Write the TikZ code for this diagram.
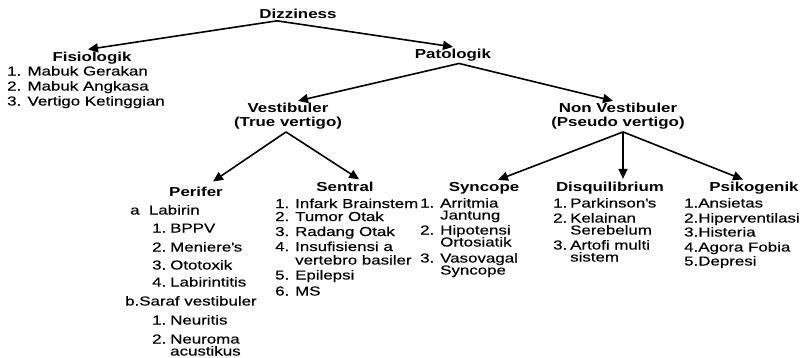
\documentclass[tikz,border=0pt]{standalone}
\usepackage{fontspec}
\setmainfont{Liberation Sans}[FakeStretch=1.3, UprightFeatures={FakeBold=0.4}]
\usetikzlibrary{arrows.meta}

\tikzset{
  title/.style={font=\bfseries, inner sep=2pt, align=center},
  item/.style={anchor=base west, inner sep=0pt},
  arr/.style={line width=1.6pt, -{Triangle[length=10pt,width=9pt]}},
}

\begin{document}
\fontsize{13}{14.5}\selectfont
\begin{tikzpicture}[x=1pt,y=-1pt]
\useasboundingbox (0,0) rectangle (806,357);

% judul tiap tingkat
\node[title, anchor=base] (diz) at (298,18.5) {Dizziness};
\node[title, anchor=base] (fis) at (92,61) {Fisiologik};
\node[title, anchor=base] (pat) at (453,58.5) {Patologik};
\node[title] (ves) at (288,116.4) {Vestibuler\\(True vertigo)};
\node[title] (nves) at (618,116.4) {Non Vestibuler\\(Pseudo vertigo)};
\node[title, anchor=base] (per) at (196,196.5) {Perifer};
\node[title, anchor=base] (sen) at (345,191.5) {Sentral};
\node[title, anchor=base] (syn) at (484,191.5) {Syncope};
\node[title, anchor=base] (dis) at (610,191.5) {Disquilibrium};
\node[title, anchor=base] (psi) at (754,191.5) {Psikogenik};

% panah antar tingkat
\draw[arr] ([xshift=-21pt]diz.south) -- ([xshift=-4pt]fis.north);
\draw[arr] ([xshift=-21pt]diz.south) -- (pat.north);
\draw[arr] ([xshift=6pt]pat.south) -- ([xshift=10pt]ves.north);
\draw[arr] ([xshift=6pt]pat.south) -- ([xshift=-5pt]nves.north);
\draw[arr, shorten >=6pt] ([xshift=-2pt]ves.south) -- ([xshift=12pt]per.north);
\draw[arr, shorten >=1pt] ([xshift=-2pt]ves.south) -- ([xshift=15pt]sen.north);
\draw[arr, shorten >=1pt] ([xshift=5pt]nves.south) -- ([xshift=13pt]syn.north);
\draw[arr, shorten >=1pt] ([xshift=5pt]nves.south) -- ([xshift=13pt]dis.north);
\draw[arr, shorten >=1pt] ([xshift=5pt]nves.south) -- ([xshift=-10pt]psi.north);

% isi daftar
\foreach \y/\t [count=\i] in {75.5/1. Mabuk Gerakan, 90.5/2. Mabuk Angkasa,
    105.5/3. Vertigo Ketinggian}
  \node[item] (fis-\i) at (7,\y) {\t};

\node[item] (per-a) at (130,214.5) {a\ \ Labirin};
\foreach \y/\n/\t [count=\i] in {232.5/1./BPPV, 251.5/2./Meniere\textquotesingle s,
    269.5/3./Ototoxik, 286.5/4./Labirintitis}
  \node[item] (lab-\i) at (152,\y) {\makebox[18pt][l]{\n}\t};
\node[item] (per-b) at (125,305.5) {b.Saraf vestibuler};
\foreach \y/\n/\t [count=\i] in {324.5/1./Neuritis, 343.5/2./Neuroma,
    355.5//acustikus}
  \node[item] (saf-\i) at (152,\y) {\makebox[18pt][l]{\n}\t};

\foreach \y/\n/\t [count=\i] in {208/1./Infark Brainstem, 221/2./Tumor Otak,
    236/3./Radang Otak, 251/4./Insufisiensi a, 264.5//vertebro basiler,
    279.5/5./Epilepsi, 295.5/6./MS}
  \node[item] (sen-\i) at (275,\y) {\makebox[20pt][l]{\n}\t};

\foreach \y/\n/\t [count=\i] in {207.5/1./Arritmia, 219.5//Jantung,
    234.5/2./Hipotensi, 246.5//Ortosiatik, 262.5/3./Vasovagal, 274.5//Syncope}
  \node[item] (syn-\i) at (420,\y) {\makebox[20pt][l]{\n}\t};

\foreach \y/\n/\t [count=\i] in {207.5/1./Parkinson\textquotesingle s, 222.5/2./Kelainan,
    234.5//Serebelum, 249.5/3./Artofi multi, 261.5//sistem}
  \node[item] (dis-\i) at (553,\y) {\makebox[17pt][l]{\n}\t};

\foreach \y/\t [count=\i] in {207.5/1.Ansietas, 222.5/2.Hiperventilasi,
    236.5/3.Histeria, 251.5/4.Agora Fobia, 265.5/5.Depresi}
  \node[item] (psi-\i) at (684,\y) {\t};

\end{tikzpicture}
\end{document}
